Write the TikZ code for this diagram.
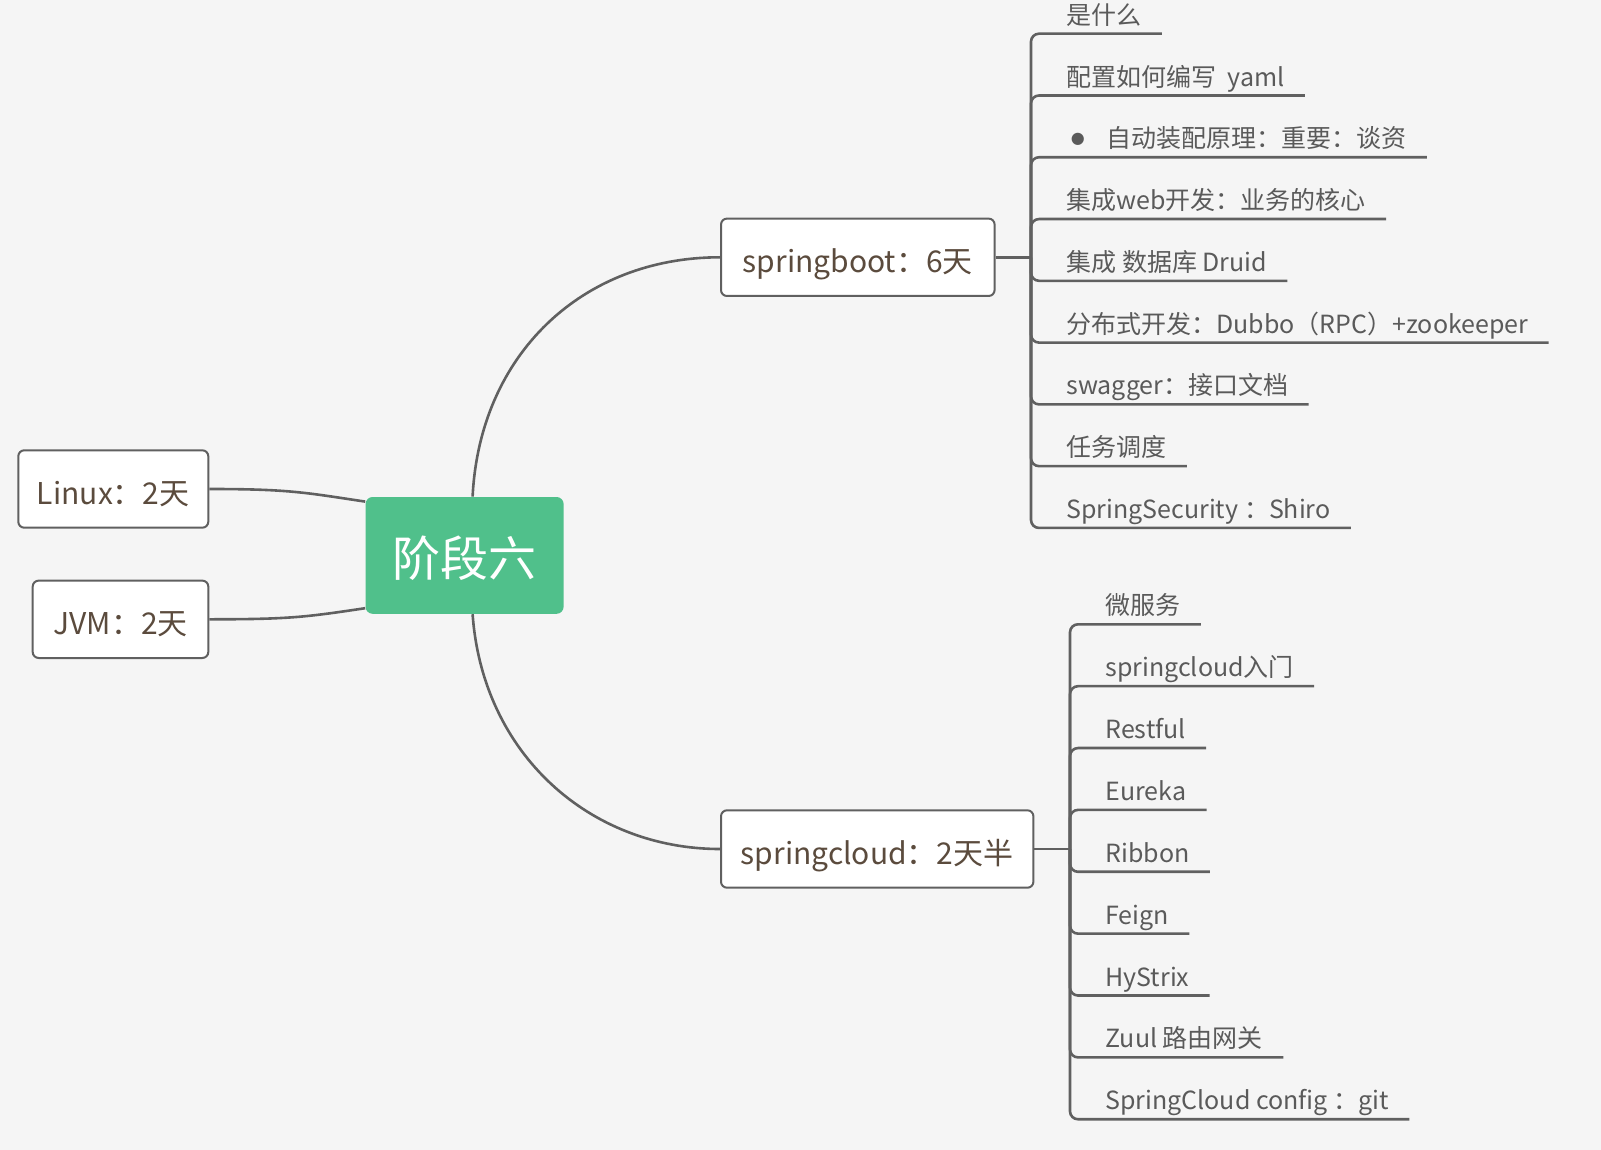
\documentclass[tikz,border=0pt]{standalone}
\usepackage{fontspec}
\setmainfont{Noto Sans CJK SC}
\newfontfamily\dotfont{DejaVu Sans}
\usepackage{tikz}

\definecolor{bgcol}{HTML}{F5F5F5}
\definecolor{linecol}{HTML}{606060}
\definecolor{topictext}{HTML}{5B4B3D}
\definecolor{leaftext}{HTML}{5A5A5A}
\definecolor{rootgreen}{HTML}{50C08B}

\begin{document}
\begin{tikzpicture}[x=0.5pt,y=-0.5pt,
    link/.style={draw=linecol,line width=1.3pt},
    topic/.style={draw=linecol,line width=1pt,fill=white,rounded corners=3pt,text=topictext,
        font=\fontsize{15}{18}\selectfont,minimum height=38.7pt,inner xsep=0pt,
        text height=16.5pt,text depth=1pt},
    leaf/.style={anchor=south west,inner xsep=10pt,inner ysep=2pt,text height=9pt,text depth=2.5pt,
        text=leaftext,font=\fontsize{12.5}{15}\selectfont}]
    \fill[bgcol] (0,0) rectangle (1601,1150);
    \useasboundingbox (0,0) rectangle (1601,1150);
    \node[fill=rootgreen,rounded corners=3.5pt,minimum width=99pt,minimum height=58.4pt,text=white,
        text height=24pt,text depth=2.9pt,font=\fontsize{24}{28}\selectfont] (root) at (464.6,555.4) {阶段六};
    \node[topic,anchor=east,minimum width=95pt] (linux) at (209.3,489) {Linux：2天};
    \node[topic,anchor=east,minimum width=87.8pt] (jvm) at (209.3,619.3) {JVM：2天};
    \node[topic,anchor=west,minimum width=136.8pt] (boot) at (720,257.3) {springboot：6天};
    \node[topic,anchor=west,minimum width=156.2pt] (cloud) at (720,849) {springcloud：2天半};
    \draw[link] (linux.east) .. controls +(80,0) and +(-60,-9) .. ([yshift=-2.5pt]root.north west);
    \draw[link] (jvm.east) .. controls +(80,0) and +(-60,9) .. ([yshift=3pt]root.south west);
    \draw[link] ([xshift=4pt]root.north) .. controls +(7,-142) and +(-138,0) .. (boot.west);
    \draw[link] ([xshift=4pt]root.south) .. controls +(10,140) and +(-130,0) .. (cloud.west);
    \coordinate (bootj) at (1031,257.3);
    \coordinate (cloudj) at (1070,849);
    \draw[link] (boot.east) -- (bootj);
    \draw[link] (cloud.east) -- (cloudj);
    \foreach \i/\txt [evaluate=\i as \y using 33.7+61.78*(\i-1)] in {1/是什么,2/配置如何编写~~yaml,
        3/\makebox[20pt][l]{\hspace{2.2pt}\raisebox{2pt}{\dotfont\fontsize{8}{8}\selectfont ●}}自动装配原理：重要：谈资,
        4/集成web开发：业务的核心,5/集成 数据库 Druid,6/分布式开发：Dubbo（RPC）+zookeeper,
        7/swagger：接口文档,8/任务调度,9/SpringSecurity ：Shiro}
    {
        \node[leaf] (b\i) at (1046,\y) {\txt};
        \draw[link,rounded corners=4pt] (bootj) |- (b\i.south east);
    }
    \foreach \i/\txt [evaluate=\i as \y using 624.3+61.87*(\i-1)] in {1/微服务,2/springcloud入门,
        3/Restful,4/Eureka,5/Ribbon,6/Feign,7/HyStrix,8/Zuul 路由网关,9/SpringCloud config ：git}
    {
        \node[leaf] (c\i) at (1085,\y) {\txt};
        \draw[link,rounded corners=4pt] (cloudj) |- (c\i.south east);
    }
\end{tikzpicture}
\end{document}
